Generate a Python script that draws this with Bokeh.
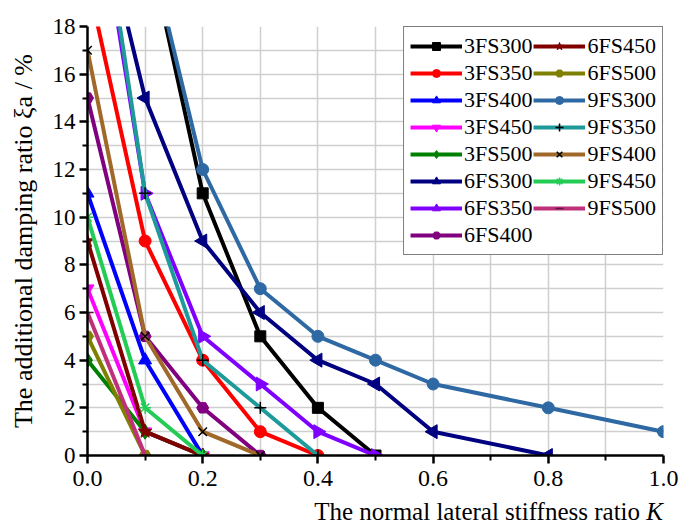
from bokeh.plotting import figure
from bokeh.models import (Range1d, FixedTicker, Legend, LegendItem, Div,
                          CustomJSTickFormatter)
from bokeh.layouts import column
from bokeh.embed import file_html
from bokeh.resources import INLINE

series_names = ["3FS300", "3FS350", "3FS400", "3FS450", "3FS500",
                "6FS300", "6FS350", "6FS400", "6FS450", "6FS500",
                "9FS300", "9FS350", "9FS400", "9FS450", "9FS500"]

k_3fs300 = [0.1, 0.2, 0.3, 0.4, 0.5]
xi_3fs300 = [22, 11, 5, 2, 0]
k_3fs350 = [0.0, 0.1, 0.2, 0.3, 0.4]
xi_3fs350 = [20, 9, 4, 1, 0]
k_3fs400 = [0.0, 0.1, 0.2]
xi_3fs400 = [11, 4, 0]
k_3fs450 = [0.0, 0.1, 0.2]
xi_3fs450 = [7, 1, 0]
k_3fs500 = [0.0, 0.1, 0.2]
xi_3fs500 = [4, 1, 0]
k_6fs300 = [0.0, 0.1, 0.2, 0.3, 0.4, 0.5, 0.6, 0.8]
xi_6fs300 = [25, 15, 9, 6, 4, 3, 1, 0]
k_6fs350 = [0.0, 0.1, 0.2, 0.3, 0.4, 0.5]
xi_6fs350 = [26, 11, 5, 3, 1, 0]
k_6fs400 = [0.0, 0.1, 0.2, 0.3]
xi_6fs400 = [15, 5, 2, 0]
k_6fs450 = [0.0, 0.1, 0.2]
xi_6fs450 = [9, 1, 0]
k_6fs500 = [0.0, 0.1]
xi_6fs500 = [5, 0]
k_9fs300 = [0.1, 0.2, 0.3, 0.4, 0.5, 0.6, 0.8, 1.0]
xi_9fs300 = [22, 12, 7, 5, 4, 3, 2, 1]
k_9fs350 = [0.0, 0.1, 0.2, 0.3, 0.4]
xi_9fs350 = [27, 11, 4, 2, 0]
k_9fs400 = [0.0, 0.1, 0.2, 0.3]
xi_9fs400 = [17, 5, 1, 0]
k_9fs450 = [0.0, 0.1, 0.2]
xi_9fs450 = [10, 2, 0]
k_9fs500 = [0.0, 0.1]
xi_9fs500 = [6, 0]

x_ticks = [0.0, 0.2, 0.4, 0.6, 0.8, 1.0]
x_minor = [0.1, 0.3, 0.5, 0.7, 0.9]
y_ticks = [0, 2, 4, 6, 8, 10, 12, 14, 16, 18]
y_minor = [1, 3, 5, 7, 9, 11, 13, 15, 17]

x_title = "The normal lateral stiffness ratio "
x_title_var = "K"
y_title = "The additional damping ratio \u03bea / %"

data = [
    (k_3fs300, xi_3fs300), (k_3fs350, xi_3fs350), (k_3fs400, xi_3fs400),
    (k_3fs450, xi_3fs450), (k_3fs500, xi_3fs500),
    (k_6fs300, xi_6fs300), (k_6fs350, xi_6fs350), (k_6fs400, xi_6fs400),
    (k_6fs450, xi_6fs450), (k_6fs500, xi_6fs500),
    (k_9fs300, xi_9fs300), (k_9fs350, xi_9fs350), (k_9fs400, xi_9fs400),
    (k_9fs450, xi_9fs450), (k_9fs500, xi_9fs500),
]

colors = ["#000000", "#FF0000", "#0000FF", "#FF00FF", "#008000",
          "#000080", "#8000FF", "#800080", "#800000", "#808000",
          "#2F69A3", "#1E9A9A", "#A0692A", "#22CC55", "#C0307A"]
# (marker, angle in degrees, size)
markers = [("square", 0, 11), ("circle", 0, 12), ("triangle", 0, 13),
           ("inverted_triangle", 0, 13), ("diamond", 0, 15),
           ("triangle", 90, 14), ("triangle", -90, 14),
           ("hex", 0, 12), ("star", 0, 14), ("hex", 0, 12),
           ("circle", 0, 12), ("cross", 0, 12), ("x", 0, 12),
           ("asterisk", 0, 12), ("dash", 0, 12)]

FONT = "'Liberation Serif', 'Times New Roman', serif"

p = figure(width=691, height=499, output_backend="svg", toolbar_location=None,
           x_range=Range1d(0, 1.0), y_range=Range1d(0, 18),
           min_border_left=87, min_border_right=28, min_border_top=26,
           min_border_bottom=44, margin=0)
p.outline_line_color = None
p.background_fill_color = "white"
p.border_fill_color = "white"

p.xgrid.ticker = FixedTicker(ticks=sorted(x_ticks + x_minor))
p.ygrid.ticker = FixedTicker(ticks=sorted(y_ticks + y_minor))
for g in (p.xgrid[0], p.ygrid[0]):
    g.grid_line_color = "#cfcfcf"
    g.grid_line_width = 1.5

p.xaxis.ticker = FixedTicker(ticks=x_ticks, minor_ticks=x_minor)
p.yaxis.ticker = FixedTicker(ticks=y_ticks, minor_ticks=y_minor)
p.xaxis.formatter = CustomJSTickFormatter(code="return tick.toFixed(1);")
for ax in (p.xaxis[0], p.yaxis[0]):
    ax.axis_line_width = 2.5
    ax.axis_line_color = "black"
    ax.major_tick_line_width = 2.5
    ax.minor_tick_line_width = 2
    ax.major_tick_out = 8
    ax.major_tick_in = 0
    ax.minor_tick_out = 5
    ax.minor_tick_in = 0
    ax.major_label_text_font = FONT
    ax.major_label_text_color = "black"
    ax.axis_label_text_font = FONT
    ax.axis_label_text_font_size = "26px"
    ax.axis_label_text_font_style = "normal"
    ax.axis_label_text_color = "black"
p.xaxis.major_label_text_font_size = "24px"
p.yaxis.major_label_text_font_size = "23px"

p.yaxis.axis_label = y_title
p.yaxis.major_label_standoff = 4
p.yaxis.axis_label_standoff = 12
p.xaxis.major_label_standoff = 7

items = []
for name, (kk, xx), c, (m, ang, sz) in zip(series_names, data, colors, markers):
    r1 = p.line(kk, xx, line_color=c, line_width=4)
    lc = c
    if m in ("cross", "x"):
        lc = "black"
    if m == "dash":
        lc = "#5a1a3a"
    r2 = p.scatter(kk, xx, marker=m, angle=ang, angle_units="deg", size=sz,
                   fill_color=c, line_color=lc,
                   line_width=1.5 if m in ("cross", "x", "asterisk", "dash") else 1)
    items.append(LegendItem(label=name, renderers=[r1, r2]))

legend = Legend(items=items, location="top_right", ncols=2,
                label_text_font=FONT, label_text_font_size="22px",
                label_text_color="black", glyph_width=52, glyph_height=20,
                spacing=1, padding=6, margin=0, label_standoff=2,
                border_line_color="black", border_line_width=1.5,
                background_fill_color="white", background_fill_alpha=1.0)
p.add_layout(legend, "center")

xlabel = Div(
    text=("<div style=\"font-family:'Liberation Serif','Times New Roman',serif;"
          "font-size:25px;line-height:26px;text-align:right;white-space:nowrap;"
          "color:black;width:663px;\">" + x_title + "<i>"
          + x_title_var + "</i></div>"),
    width=691, height=26, margin=0)

layout = column(p, xlabel, spacing=0, margin=0)
open("out.html", "w").write(file_html(layout, INLINE))
